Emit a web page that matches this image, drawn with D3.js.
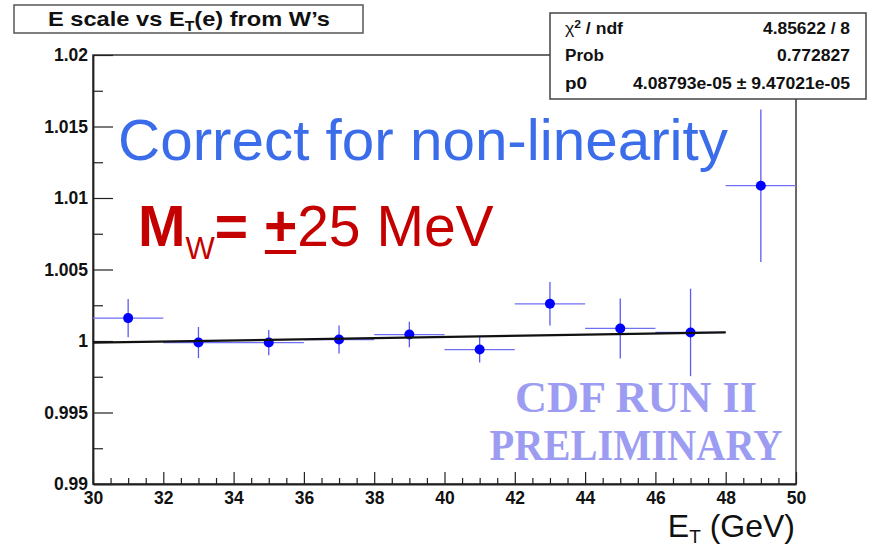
<!DOCTYPE html>
<html>
<head>
<meta charset="utf-8">
<script src="https://cdn.jsdelivr.net/npm/d3@7"></script>
<style>
  html, body { margin: 0; padding: 0; background: #fff; }
  svg { display: block; }
  text { font-family: "Liberation Sans", Arial, Helvetica, sans-serif; }
</style>
</head>
<body>
<svg id="chart" width="873" height="549"></svg>
<script>
// Bin centres in E_T (GeV) and half bin width
const binCenters = [31, 33, 35, 37, 39, 41, 43, 45, 47, 49];
const binHalfWidth = [1, 1, 1, 1, 1, 1, 1, 1, 1, 1];
// Fitted energy-scale ratio per bin and its uncertainty
const scaleValues = [1.00160, 0.99989, 0.99989, 1.00010, 1.00045, 0.99940, 1.00260, 1.00088, 1.00060, 1.01086];
const scaleErrors = [0.00134, 0.00109, 0.00088, 0.00098, 0.00089, 0.00091, 0.00152, 0.00210, 0.00306, 0.00533];
// Linear fit drawn over the fit range
const fitRangeX = [30, 48];
const fitRangeY = [0.99988, 1.00060];
// Axis ticks
const xTicks = [30, 32, 34, 36, 38, 40, 42, 44, 46, 48, 50];
const xTickLabels = ["30", "32", "34", "36", "38", "40", "42", "44", "46", "48", "50"];
const yTicks = [0.99, 0.995, 1.0, 1.005, 1.01, 1.015, 1.02];
const yTickLabels = ["0.99", "0.995", "1", "1.005", "1.01", "1.015", "1.02"];
// Fit statistics box
const statNames = ["ndf", "Prob", "p0"];
const statValues = ["4.85622 / 8", "0.772827", "4.08793e-05 \u00b1 9.47021e-05"];

const svg = d3.select("#chart");
const frame = { left: 93, right: 796, top: 55, bottom: 484 };

const x = d3.scaleLinear().domain([30, 50]).range([frame.left, frame.right]);
const y = d3.scaleLinear().domain([0.99, 1.02]).range([frame.bottom, frame.top]);

const axisColor = "#222";
const tickFont = "bold 17.5px 'Liberation Sans', Arial, sans-serif";

// Plot frame (top and right edges)
svg.append("rect")
  .attr("x", frame.left).attr("y", frame.top)
  .attr("width", frame.right - frame.left).attr("height", frame.bottom - frame.top)
  .attr("fill", "none").attr("stroke", "#444").attr("stroke-width", 1.6);

// Minor ticks
const xMinor = d3.range(30, 50.01, 0.5).filter(v => Math.abs(v % 2) > 1e-6);
const yMinor = d3.range(0.9925, 1.02, 0.005);

svg.append("g")
  .attr("transform", `translate(0,${frame.bottom})`)
  .call(d3.axisBottom(x).tickValues(xMinor).tickSize(-6).tickSizeOuter(0).tickFormat(""))
  .call(g => g.select(".domain").remove())
  .selectAll("line").attr("stroke", axisColor).attr("stroke-width", 1.2);

svg.append("g")
  .attr("transform", `translate(${frame.left},0)`)
  .call(d3.axisLeft(y).tickValues(yMinor).tickSize(-10).tickSizeOuter(0).tickFormat(""))
  .call(g => g.select(".domain").remove())
  .selectAll("line").attr("stroke", axisColor).attr("stroke-width", 1.2);

// Major x axis
const gx = svg.append("g")
  .attr("transform", `translate(0,${frame.bottom})`)
  .call(d3.axisBottom(x).tickValues(xTicks).tickSize(-12).tickSizeOuter(0).tickPadding(5)
    .tickFormat((d, i) => xTickLabels[i]));
gx.select(".domain").attr("stroke", axisColor).attr("stroke-width", 1.8);
gx.selectAll("line").attr("stroke", axisColor).attr("stroke-width", 1.2);
gx.selectAll("text").style("font", tickFont).attr("fill", "#111").attr("dy", "0.85em");

// Major y axis
const gy = svg.append("g")
  .attr("transform", `translate(${frame.left},0)`)
  .call(d3.axisLeft(y).tickValues(yTicks).tickSize(-20).tickSizeOuter(0).tickPadding(5)
    .tickFormat((d, i) => yTickLabels[i]));
gy.select(".domain").attr("stroke", axisColor).attr("stroke-width", 1.8);
gy.selectAll("line").attr("stroke", axisColor).attr("stroke-width", 1.2);
gy.selectAll("text").style("font", tickFont).attr("fill", "#111");

// Data: error bars and markers
const pts = binCenters.map((c, i) => ({ c, hw: binHalfWidth[i], v: scaleValues[i], e: scaleErrors[i] }));
const errColor = "#5a5af5";
const gp = svg.append("g");
gp.selectAll("line.h").data(pts).join("line").attr("class", "h")
  .attr("x1", d => x(d.c - d.hw)).attr("x2", d => x(d.c + d.hw))
  .attr("y1", d => y(d.v)).attr("y2", d => y(d.v))
  .attr("stroke", "#6f6ff5").attr("stroke-width", 1.3);
gp.selectAll("line.v").data(pts).join("line").attr("class", "v")
  .attr("x1", d => x(d.c)).attr("x2", d => x(d.c))
  .attr("y1", d => y(d.v - d.e)).attr("y2", d => y(d.v + d.e))
  .attr("stroke", errColor).attr("stroke-width", 1.3);

// Fit line
svg.append("line")
  .attr("x1", x(fitRangeX[0])).attr("x2", x(fitRangeX[1]))
  .attr("y1", y(fitRangeY[0])).attr("y2", y(fitRangeY[1]))
  .attr("stroke", "#111").attr("stroke-width", 2.2);

gp.selectAll("circle").data(pts).join("circle")
  .attr("cx", d => x(d.c)).attr("cy", d => y(d.v)).attr("r", 5)
  .attr("fill", "#0000ff");

// Title box
svg.append("rect").attr("x", 14).attr("y", 5).attr("width", 349).attr("height", 28)
  .attr("fill", "#fff").attr("stroke", "#555").attr("stroke-width", 1.5);
const title = svg.append("text").attr("x", 48).attr("y", 26)
  .style("font-weight", "bold").style("font-size", "21px").attr("fill", "#111");
title.append("tspan").text("E scale vs E");
title.append("tspan").text("T").style("font-size", "14px").attr("dy", 5);
title.append("tspan").text("(e) from W\u2019s").attr("dy", -5);
title.attr("textLength", 282).attr("lengthAdjust", "spacingAndGlyphs");

// Statistics box
svg.append("rect").attr("x", 550).attr("y", 13).attr("width", 316).attr("height", 86)
  .attr("fill", "#fff").attr("stroke", "#444").attr("stroke-width", 1.5);
const rowsY = [34, 61, 89];
const nameWidths = [58, 39, 22];
const valueWidths = [87, 73, 217];
const statFont = "16px";
const chi = svg.append("text").attr("x", 565).attr("y", rowsY[0])
  .style("font-size", statFont).style("font-weight", "bold").attr("fill", "#111");
chi.append("tspan").text("\u03c7").style("font-weight", "normal");
chi.append("tspan").text("2").style("font-size", "11px").attr("dy", -6);
chi.append("tspan").text(" / " + statNames[0]).attr("dy", 6);
chi.attr("textLength", nameWidths[0]).attr("lengthAdjust", "spacingAndGlyphs");
[1, 2].forEach(i => {
  svg.append("text").attr("x", 565).attr("y", rowsY[i])
    .style("font-size", statFont).style("font-weight", "bold").attr("fill", "#111")
    .attr("textLength", nameWidths[i]).attr("lengthAdjust", "spacingAndGlyphs")
    .text(statNames[i]);
});
statValues.forEach((s, i) => {
  svg.append("text").attr("x", 850 - valueWidths[i]).attr("y", rowsY[i])
    .style("font-size", statFont).style("font-weight", "bold").attr("fill", "#111")
    .attr("textLength", valueWidths[i]).attr("lengthAdjust", "spacingAndGlyphs")
    .text(s);
});

// Annotations
const note1 = svg.append("text").attr("x", 118).attr("y", 160)
  .style("font-size", "57px").attr("fill", "#3b6ce9")
  .text("Correct for non-linearity");
note1.attr("textLength", 610).attr("lengthAdjust", "spacingAndGlyphs");

const note2 = svg.append("text").attr("x", 138).attr("y", 246)
  .style("font-size", "57px").attr("fill", "#c40000");
note2.append("tspan").text("M").style("font-weight", "bold");
note2.append("tspan").text("W").style("font-size", "31px").attr("dy", 13);
note2.append("tspan").text("= ").style("font-weight", "bold").attr("dy", -13);
note2.append("tspan").text("+").style("font-weight", "bold");
note2.append("tspan").text("25 MeV");
// underline beneath the plus sign
{
  const node = note2.node();
  const full = node.textContent;
  const k = full.indexOf("+");
  const p0 = node.getStartPositionOfChar(k), p1 = node.getEndPositionOfChar(k);
  svg.append("rect").attr("x", p0.x + 1).attr("y", 250)
    .attr("width", p1.x - p0.x - 2).attr("height", 4).attr("fill", "#c40000");
}

svg.append("text").attr("x", 636).attr("y", 412).attr("text-anchor", "middle")
  .style("font-family", "'Liberation Serif', 'Times New Roman', serif")
  .style("font-weight", "bold").style("font-size", "44px").attr("fill", "#9c9cf2")
  .attr("textLength", 242).attr("lengthAdjust", "spacingAndGlyphs")
  .text("CDF RUN II");
svg.append("text").attr("x", 636).attr("y", 460).attr("text-anchor", "middle")
  .style("font-family", "'Liberation Serif', 'Times New Roman', serif")
  .style("font-weight", "bold").style("font-size", "44px").attr("fill", "#9c9cf2")
  .attr("textLength", 293).attr("lengthAdjust", "spacingAndGlyphs")
  .text("PRELIMINARY");

// Axis title
const xt = svg.append("text").attr("x", 795).attr("y", 537).attr("text-anchor", "end")
  .style("font-size", "32px").attr("fill", "#111");
xt.append("tspan").text("E");
xt.append("tspan").text("T").style("font-size", "19px").attr("dy", 6);
xt.append("tspan").text(" (GeV)").attr("dy", -6);
</script>
</body>
</html>
